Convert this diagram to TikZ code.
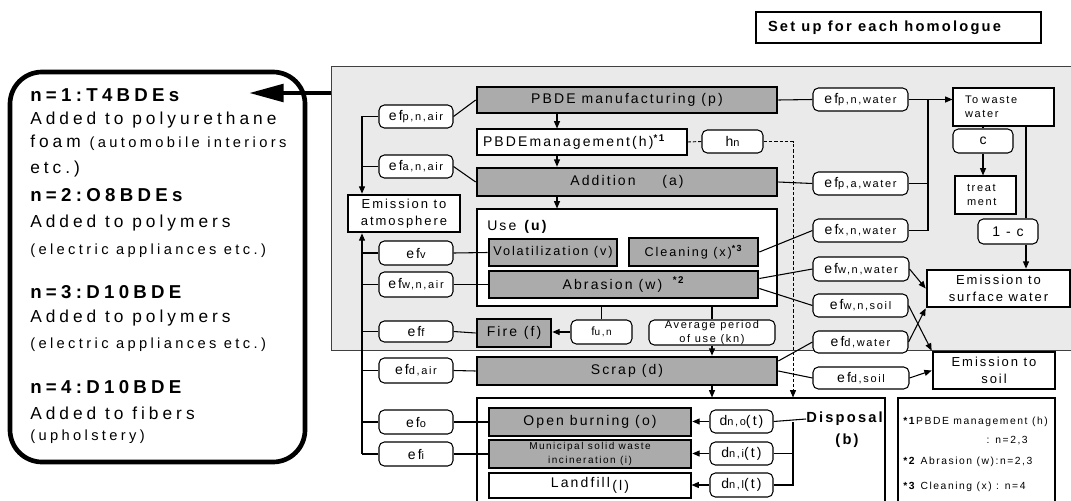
\documentclass[tikz,border=0pt]{standalone}
\usepackage{fontspec}
\setmainfont{Liberation Sans}
\newfontfamily\ls[LetterSpace=15]{Liberation Sans}
\newfontfamily\lsw[LetterSpace=23]{Liberation Sans}
\usetikzlibrary{arrows.meta,calc}
\definecolor{bgc}{HTML}{EAEAEA}
\definecolor{boxc}{HTML}{ABABAB}
\newcommand\fsz[2]{\fontsize{#1}{#2}\selectfont}
\newcommand\efl[1]{ef{\fsz{8.25}{9}#1}}
\newcommand\bx[7]{\node[#6, minimum width={(#4-#2)*0.75pt}, minimum height={(#5-#3)*0.75pt}] (#1) at ({(#2+#4)/2},{(#3+#5)/2}) {#7};}
\begin{document}
\begin{tikzpicture}[x=0.75pt,y=-0.75pt,
  every node/.style={inner sep=0pt, font=\ls\fsz{10.5}{12.6}},
  bgbox/.style={fill=bgc, draw=black!75, line width=0.6pt},
  gbox/.style={draw, line width=2pt, fill=boxc},
  wbox/.style={draw, line width=0.8pt, fill=white},
  rbox/.style={draw, line width=0.8pt, rounded corners=4pt, fill=white},
  ebox/.style={draw, line width=2pt, fill=white},
  lftbox/.style={draw, line width=3.5pt, rounded corners=24pt, fill=white},
  ln/.style={line width=0.8pt},
  arr/.style={line width=0.8pt, -{Triangle[length=5.5pt,width=4.5pt]}},
  dsh/.style={line width=0.7pt, dash pattern=on 2.5pt off 1.5pt},
  two/.style={align=center, font=\ls\fsz{9.75}{12.5}},
  lt/.style={anchor=west, font=\lsw\fsz{13}{15}},
  lts/.style={anchor=west, font=\lsw\fsz{11}{13}},
  ltb/.style={anchor=west, font=\lsw\bfseries\fsz{14}{16}},
  nt/.style={anchor=west, font=\ls\fsz{7.75}{9}}]
\useasboundingbox (0,0) rectangle (1071,500);

% background region and set-up label
\bx{bg}{331}{66}{1080}{350}{bgbox}{}
\bx{setup}{756}{12}{1041}{43}{ebox}{\makebox[213.75pt][l]{\hspace{9pt}\bfseries\fsz{11}{13}Set up for each homologue}}

% left description box
\bx{lbox}{10}{72}{305}{462}{lftbox}{}
\node[ltb] (t1) at (30,95) {n=1:T4BDEs};
\node[lt] (t2) at (30,120) {Added to polyurethane};
\node[lt] (t3) at (30,143) {foam {\fsz{11}{13}(automobile interiors}};
\node[lt] (t4) at (30,169) {etc.)};
\node[ltb] (t5) at (30,195) {n=2:O8BDEs};
\node[lt] (t6) at (30,223) {Added to polymers};
\node[lts] (t7) at (30,251) {(electric appliances etc.)};
\node[ltb] (t8) at (30,292) {n=3:D10BDE};
\node[lt] (t9) at (30,318) {Added to polymers};
\node[lts] (t10) at (30,345) {(electric appliances etc.)};
\node[ltb] (t11) at (30,387) {n=4:D10BDE};
\node[lt] (t12) at (30,413) {Added to fibers};
\node[lts] (t13) at (30,437) {(upholstery)};
\coordinate (aS) at (331,93);
\coordinate (aE) at (249,93);
\draw[line width=3.4pt, -{Triangle[length=26pt,width=13pt]}] (aS) -- (aE);

% main chain
\bx{manuf}{477}{87}{777}{113}{gbox}{PBDE manufacturing (p)}
\bx{mgmt}{477}{129}{687}{155}{wbox}{\makebox[157.5pt][l]{\hspace{4.5pt}PBDEmanagement(h)\textsuperscript{\bfseries *1}}}
\bx{hn}{702}{130}{763}{153}{rbox}{h{\fsz{8.25}{9}n}}
\bx{addn}{477}{168}{777}{196}{gbox}{Addition\hspace{20pt}(a)}
\bx{use}{477}{209}{777}{306}{wbox}{}
\node[anchor=west] (usel) at (487,227) {Use \textbf{(u)}};
\bx{vol}{489}{239}{617}{266}{gbox, font=\ls\fsz{9.5}{11}}{Volatilization (v)}
\bx{cln}{629}{238}{758}{266}{gbox, font=\ls\fsz{9.5}{11}}{Cleaning (x)\textsuperscript{\bfseries *3}}
\bx{abr}{489}{271}{758}{298}{gbox}{Abrasion (w)\hspace{8pt}\textsuperscript{\bfseries *2}}
\bx{fire}{477}{319}{551}{347}{gbox}{Fire\hspace{5pt}(f)}
\bx{fun}{571}{320}{632}{344}{rbox, font=\ls\fsz{9}{10}}{f{\fsz{7.5}{8}u,n}}
\bx{avg}{649}{320}{775}{345}{rbox, align=center, font=\ls\fsz{8.25}{10.5}}{Average period\\of use (kn)}
\bx{scrap}{477}{357}{777}{385}{gbox}{Scrap (d)}

% disposal
\bx{disp}{477}{398}{885}{520}{wbox}{}
\bx{ob}{489}{408}{691}{436}{gbox}{Open burning (o)}
\bx{msw}{489}{440}{691}{468}{gbox, align=center, font=\ls\fsz{7.5}{10.5}}{Municipal solid waste\\incineration (i)}
\bx{lf}{489}{473}{691}{498}{wbox}{Landfill\,\raisebox{-2pt}{(l)}}
\bx{dno}{710}{410}{773}{433}{rbox}{d{\fsz{8.25}{9}n,o}(t)}
\bx{dni}{710}{442}{773}{465}{rbox}{d{\fsz{8.25}{9}n,i}(t)}
\bx{dnl}{710}{473}{773}{497}{rbox}{d{\fsz{8.25}{9}n,l}(t)}
\node[anchor=west, font=\ls\bfseries\fsz{11}{13}] (displ) at (806,419) {Disposal};
\node[font=\ls\bfseries\fsz{11}{13}] (dispb) at (847,441) {(b)};

% notes
\bx{notes}{898}{398}{1055}{520}{wbox}{}
\node[nt] (n1) at (903,422) {\textbf{*1}PBDE management (h)};
\node[nt, anchor=east] (n1b) at (1028,441) {: n=2,3};
\node[nt] (n2) at (903,462) {\textbf{*2} Abrasion (w):n=2,3};
\node[nt] (n3) at (903,487) {\textbf{*3} Cleaning (x) : n=4};

% left emission factors
\bx{efpna}{379}{105}{453}{128}{rbox}{\efl{p,n,air}}
\bx{efana}{379}{155}{453}{178}{rbox}{\efl{a,n,air}}
\bx{atm}{348}{195}{460}{232}{ebox, two}{Emission to\\atmosphere}
\bx{efv}{379}{241}{453}{265}{rbox}{\efl{v}}
\bx{efwna}{379}{272}{453}{297}{rbox}{\efl{w,n,air}}
\bx{eff}{379}{321}{453}{342}{rbox}{\efl{f}}
\bx{efdair}{379}{358}{453}{383}{rbox}{\efl{d,air}}
\bx{efo}{379}{410}{453}{434}{rbox}{\efl{o}}
\bx{efi}{379}{442}{453}{466}{rbox}{\efl{i}}

% right emission factors
\bx{efpnw}{813}{88}{908}{111}{rbox}{\efl{p,n,water}}
\bx{efpaw}{813}{172}{908}{195}{rbox}{\efl{p,a,water}}
\bx{efxnw}{813}{219}{908}{242}{rbox}{\efl{x,n,water}}
\bx{efwnw}{813}{257}{909}{281}{rbox}{\efl{w,n,water}}
\bx{efwns}{813}{294}{908}{317}{rbox}{\efl{w,n,soil}}
\bx{efdw}{813}{331}{908}{353}{rbox}{\efl{d,water}}
\bx{efds}{813}{367}{909}{389}{rbox}{\efl{d,soil}}
\bx{ww}{953}{88}{1054}{126}{wbox, align=left, text width=57.75pt, font=\ls\fsz{8.25}{10.5}}{To waste\\water}
\bx{cc}{953}{129}{1013}{153}{rbox}{c}
\bx{treat}{955}{176}{1016}{214}{wbox, align=left, text width=27.75pt, font=\ls\fsz{8.25}{10.5}}{treat\\ment}
\bx{omc}{978}{219}{1038}{244}{rbox}{1 - c}
\bx{surf}{927}{270}{1070}{307}{ebox, two}{Emission to\\surface water}
\bx{soil}{933}{352}{1055}{389}{ebox, two}{Emission to\\soil}

% helper columns
\coordinate (lcol) at (362,0);
\coordinate (colA) at (557,0);
\coordinate (rcol) at (928,0);
\coordinate (dcol) at (793,0);
\coordinate (wcol) at (1026,0);

% main chain arrows
\draw[arr] (manuf.south -| colA) -- (mgmt.north -| colA);
\draw[arr] (mgmt.south -| colA) -- (addn.north -| colA);
\draw[arr] (addn.south -| colA) -- (use.north -| colA);
\draw[ln] (fun.north) -- (fun.north |- use.south);
\draw[arr] (fun.west) -- (fire.east |- fun.west);
\draw[ln] (avg.north) -- (avg.north |- use.south);
\draw[arr] (avg.south) -- (avg.south |- scrap.north);
\draw[arr] (scrap.south -| avg.south) -- (disp.north -| avg.south);
\draw[dsh] (mgmt.east) -- (hn.west);
\draw[dsh, -{Triangle[length=5.5pt,width=4.5pt]}] (hn.east) -| (disp.north -| dcol);

% left side
\draw[ln] (efpna.east) -- (manuf.west);
\draw[ln] (efana.east) -- (addn.west);
\draw[arr] (efpna.west) -| (atm.north -| lcol);
\draw[ln] (efana.west) -- (efana.west -| lcol);
\draw[arr] (efi.west -| lcol) -- (atm.south -| lcol);
\foreach \n in {efv,efwna,eff,efdair,efo,efi} \draw[ln] (\n.west) -- (\n.west -| lcol);
\draw[ln] (efv.east) -- (vol.west);
\draw[ln] (efwna.east) -- (abr.west);
\draw[ln] (eff.east) -- (fire.west);
\draw[ln] (efdair.east) -- (scrap.west);
\draw[ln] (efo.east) -- (ob.west);
\draw[ln] (efi.east) -- (msw.west);

% disposal links
\draw[arr] (dno.west) -- (ob.east |- dno.west);
\draw[arr] (dni.west) -- (msw.east |- dni.west);
\draw[arr] (dnl.west) -- (lf.east |- dnl.west);
\draw[ln] (dno.east) -- (displ.west);
\draw[ln] (dnl.east) -| (dcol |- dno.east);
\draw[ln] (dni.east) -- (dni.east -| dcol);

% right side
\draw[ln] (manuf.east) -- (efpnw.west);
\draw[arr] (efpnw.east) -- (ww.west |- efpnw.east);
\draw[ln] (efxnw.east) -| (rcol |- efpnw.east);
\draw[ln] (efpaw.east) -- (efpaw.east -| rcol);
\draw[ln] (addn.east) -- (efpaw.west);
\draw[ln] (cln.east) -- (efxnw.west);
\draw[ln] ([yshift=4.5pt]abr.east) -- (efwnw.west);
\draw[ln] ([yshift=-3pt]abr.east) -- (efwns.west);
\draw[ln] ([yshift=-4pt]scrap.north east) -- (efdw.west);
\draw[ln] (scrap.east) -- (efds.west);
\draw[arr] (efwnw.east) -- (surf.west);
\draw[arr] (efwns.east) -- (soil.north west);
\draw[arr] (efdw.east) -- (surf.south west);
\draw[arr] (efds.east) -- (soil.west);
\draw[ln] (ww.south -| cc.north) -- (cc.north);
\draw[arr] (cc.south) -- (cc.south |- treat.north);
\draw[ln] (ww.south -| wcol) -- (omc.north -| wcol);
\draw[arr] (omc.south -| wcol) -- (surf.north -| wcol);
\end{tikzpicture}
\end{document}
